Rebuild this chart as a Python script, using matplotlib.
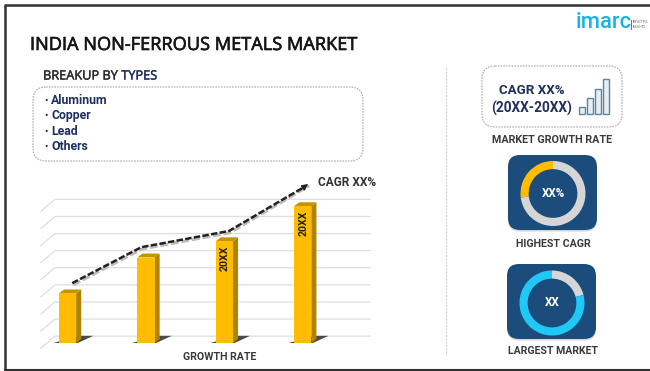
import matplotlib
matplotlib.use("Agg")
import matplotlib.pyplot as plt
import matplotlib.patheffects as pe
from matplotlib.patches import FancyBboxPatch, Polygon

W, H = 650, 371
plt.rcParams['font.family'] = ['Roboto', 'DejaVu Sans']

# growth chart
bar_values = [2.9, 5.0, 5.95, 8.0]
bar_labels = ['', '', '20XX', '20XX']
trend_x = [0.06, 0.94, 2.06, 3.07]
trend_y = [3.5, 5.6, 6.55, 9.3]
grid_levels = [0.4, 1.4, 2.4, 3.4, 4.4, 5.4, 6.4, 7.4, 8.4]

# text blocks
types = ['Aluminum', 'Copper', 'Lead', 'Others']

# right hand icons
icon_bars = [7, 16, 25, 35]
highest_share = [27, 73]
largest_share = [21, 79]

NAVY = '#1f2f5f'
GOLD = '#ffbc00'
GOLD_DARK = '#b08300'
BLUE = '#1c4c7c'
CYAN = '#1fc8f5'
RING_GREY = '#d6d6d6'
TEXT_GREY = '#3a3a3a'
OPEN = ['Open Sans', 'DejaVu Sans']


def axes_px(fig, left, top, right, bottom):
    # add axes using pixel coordinates measured from the top left
    return fig.add_axes([left / W, 1 - bottom / H, (right - left) / W, (bottom - top) / H])


def thicken(text, width):
    # Open Sans only comes in one weight here, so stroke the glyphs a little
    text.set_path_effects([pe.withStroke(linewidth=width, foreground=text.get_color())])


def donut(fig, box, shares, colors, label, counterclock):
    ring = axes_px(fig, *box)
    ring.pie(shares, colors=colors, startangle=90, counterclock=counterclock, radius=1,
             wedgeprops={'width': 0.25, 'linewidth': 0})
    ring.set_xlim(-1, 1)
    ring.set_ylim(-1, 1)
    ring.text(0, 0, label, color='white', fontsize=8.4, fontweight='bold', ha='center', va='center')


fig = plt.figure(figsize=(6.5, 3.71), dpi=100, facecolor='white')

# page layer in pixels
page = fig.add_axes([0, 0, 1, 1])
page.set_xlim(0, W)
page.set_ylim(H, 0)
page.axis('off')

# frame
page.plot([5, 5], [5, H], color='#333333', lw=1.8, solid_capstyle='butt')
page.plot([4, W], [5, 5], color='#333333', lw=1.8, solid_capstyle='butt')
page.plot([4, W], [369.5, 369.5], color='#333333', lw=1.5, solid_capstyle='butt')

title = page.text(30, 45, 'INDIA NON-FERROUS METALS MARKET', fontsize=13.1,
                  family=OPEN, color='#161616', va='center', ha='left')
thicken(title, 0.45)

t = page.text(43, 76, 'BREAKUP BY ', fontsize=9.2, family=OPEN, color='#2b2b2b', va='center', ha='left')
thicken(t, 0.3)
t2 = page.annotate('TYPES', xycoords=t, xy=(1, 0), va='bottom', ha='left', fontsize=9.2,
                   family=OPEN, color=NAVY)
thicken(t2, 0.3)

# dotted boxes
page.add_patch(FancyBboxPatch((33 + 13, 87 + 13), 330 - 26, 74 - 26, boxstyle='round,pad=13',
                              fc='white', ec='#a9a9a9', lw=0.8, ls=(0, (1.5, 1))))
page.add_patch(FancyBboxPatch((482 + 13, 66 + 13), 140 - 26, 61 - 26, boxstyle='round,pad=13',
                              fc='white', ec='#a9a9a9', lw=0.8, ls=(0, (1.5, 1))))

for i, name in enumerate(types):
    y = 100.5 + i * 15.3
    page.text(44, y, '•', fontsize=6.5, fontweight='bold', color=NAVY, va='center', ha='left')
    page.text(51, y, name, fontsize=8.8, fontweight='bold', color=NAVY, va='center', ha='left')

# divider between the two halves
page.plot([446, 446], [68, 355], color='#c4c4c4', lw=0.8, ls=(0, (1.5, 1.5)))

# logo
page.text(576, 23, 'imarc', fontsize=15.8, fontweight='medium', color='#17b3e4', va='center', ha='left')
page.plot([631, 631], [20, 29], color='#555555', lw=0.6)
page.text(633, 22, 'IMPACTFUL', fontsize=2.2, color='#666666', va='center', ha='left')
page.text(633, 26.5, 'INSIGHTS', fontsize=2.2, color='#666666', va='center', ha='left')

# cagr box
page.text(532, 91, 'CAGR XX%', fontsize=9.6, fontweight='bold', color=NAVY, va='center', ha='center')
page.text(532, 108, '(20XX-20XX)', fontsize=9.8, fontweight='bold', color=NAVY, va='center', ha='center')
page.bar([581.5, 590, 598, 606], [-h for h in icon_bars], bottom=114, width=6,
         fc='#e6eef2', ec='#5b86a3', lw=1)
page.set_xlim(0, W)
page.set_ylim(H, 0)

page.text(552.5, 140, 'MARKET GROWTH RATE', fontsize=7.75, fontweight='bold', color=TEXT_GREY,
          va='center', ha='center')
page.text(553, 244, 'HIGHEST CAGR', fontsize=7.7, fontweight='bold', color=TEXT_GREY, va='center', ha='center')
page.text(553, 351, 'LARGEST MARKET', fontsize=7.6, fontweight='bold', color=TEXT_GREY, va='center', ha='center')
page.text(220, 357, 'GROWTH RATE', fontsize=7.6, fontweight='bold', color=TEXT_GREY, va='center', ha='center')

# icon tiles with a soft drop shadow
for x0, y0 in [(508, 155), (507, 264)]:
    page.add_patch(FancyBboxPatch((x0 + 12, y0 + 13.5), 89 - 24, 75 - 24, boxstyle='round,pad=12',
                                  fc='#b8b8b8', ec='none', alpha=0.6))
    page.add_patch(FancyBboxPatch((x0 + 12, y0 + 12), 89 - 24, 75 - 24, boxstyle='round,pad=12',
                                  fc=BLUE, ec='none'))

# donuts
donut(fig, (520.5, 161, 585.5, 226), highest_share, [GOLD, RING_GREY], 'XX%', True)
donut(fig, (519.5, 270.5, 584.5, 335.5), largest_share, [RING_GREY, CYAN], 'XX', False)

# growth chart, x in bar positions and y in grid units
ax = axes_px(fig, 30, 170, 385, 350)
ax.patch.set_alpha(0)
ax.set_xlim((30 - 67.5) / 78.4, (385 - 67.5) / 78.4)
ax.set_ylim((343 - 350) / 17.1, (343 - 170) / 17.1)
ax.axis('off')

for g in grid_levels:
    ax.plot([-0.34, -0.16, 3.86], [g - 0.7, g, g], color='#dedede', lw=0.9, zorder=1)

bar_w = 0.22
dx, dy = 0.065, 0.23
for i, v in enumerate(bar_values):
    l, r = i - bar_w / 2, i + bar_w / 2
    # floor shadow
    ax.add_patch(Polygon([(l - 0.07, 0), (r + 0.02, 0), (r + 0.22, 0.42), (r + 0.05, 0.42)],
                         fc='#4a4a4a', ec='none', zorder=2))
    ax.bar(i, v, width=bar_w, color=GOLD, zorder=4)
    ax.add_patch(Polygon([(r, 0), (r + dx, dy), (r + dx, v + dy), (r, v)], fc=GOLD_DARK, ec='none', zorder=3))
    ax.add_patch(Polygon([(l, v), (l + dx, v + dy), (r + dx, v + dy), (r, v)], fc='#c79400', ec='none', zorder=3))
    if bar_labels[i]:
        ax.text(i + 0.01, v - 1.0, bar_labels[i], rotation=90, fontsize=7.6, fontweight='bold', color='#222222',
                ha='center', va='center', zorder=5)

# dashed trend line with its shadow
ax.plot([x + 0.012 for x in trend_x], [y - 0.1 for y in trend_y], color='#bdbdbd', lw=2.2,
        ls=(0, (2.6, 0.9)), zorder=5)
ax.plot(trend_x[:-1] + [trend_x[-1] - 0.06], trend_y[:-1] + [trend_y[-1] - 0.2], color='#222222', lw=1.8,
        ls=(0, (2.6, 0.9)), zorder=6)
ax.annotate('', xy=(trend_x[-1], trend_y[-1]), xytext=(trend_x[-1] - 0.1, trend_y[-1] - 0.34),
            arrowprops=dict(arrowstyle='-|>', color='#222222', lw=1, mutation_scale=9, shrinkA=0, shrinkB=0),
            zorder=7)
ax.text(3.2, 9.4, 'CAGR XX%', fontsize=8.6, fontweight='bold', color='#333333', ha='left', va='center', zorder=7)

fig.savefig('out.png', dpi=100)
